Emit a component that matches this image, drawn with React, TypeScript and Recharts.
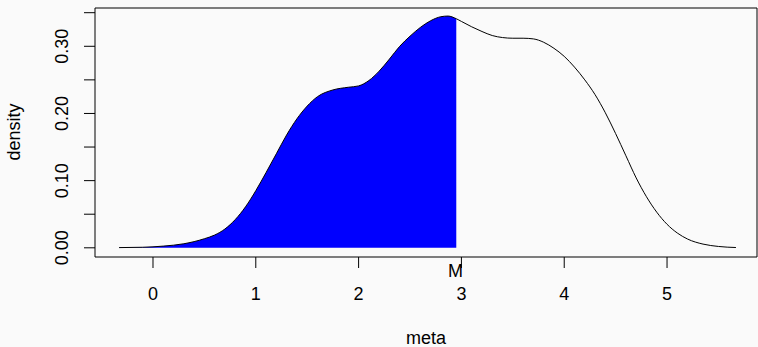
import React from 'react';
import { ComposedChart, Area, Line, XAxis, YAxis, ReferenceArea, ReferenceLine } from 'recharts';

// density estimate of "meta"
const metaX = [
  -0.33, -0.1, 0.1, 0.3, 0.5, 0.6, 0.7, 0.8, 0.9, 1.0, 1.1, 1.2, 1.3, 1.4, 1.5, 1.6, 1.75, 1.9,
  2.0, 2.1, 2.2, 2.3, 2.4, 2.5, 2.6, 2.7, 2.8, 2.87, 2.95, 3.0, 3.1, 3.2, 3.3, 3.4, 3.5,
  3.6, 3.7, 3.8, 3.9, 4.0, 4.1, 4.2, 4.3, 4.4, 4.5, 4.6, 4.7, 4.8, 4.9, 5.0, 5.1, 5.2,
  5.35, 5.5, 5.67,
];
const density = [
  0.0003, 0.0008, 0.0025, 0.006, 0.0135, 0.019, 0.028, 0.042, 0.061, 0.085, 0.112, 0.14,
  0.168, 0.192, 0.211, 0.225, 0.235, 0.239, 0.241, 0.249, 0.263, 0.281, 0.3, 0.315, 0.328,
  0.338, 0.344, 0.345, 0.341, 0.337, 0.329, 0.322, 0.316, 0.313, 0.312, 0.312, 0.311,
  0.306, 0.297, 0.285, 0.269, 0.25, 0.228, 0.201, 0.17, 0.137, 0.104, 0.076, 0.053,
  0.035, 0.022, 0.013, 0.0055, 0.002, 0.0004,
];
const M = 2.95;
const xTicks = [0, 1, 2, 3, 4, 5];
const yTicks = [0, 0.05, 0.1, 0.15, 0.2, 0.25, 0.3, 0.35];
const yLabels = [0, 0.1, 0.2, 0.3];

const X_DOMAIN: [number, number] = [-0.564, 5.875];
const Y_DOMAIN: [number, number] = [-0.0137, 0.357];
const FONT = '"Liberation Sans", Arial, sans-serif';

const data = metaX.map((x, i) => ({
  x,
  y: density[i],
  fill: x <= M ? density[i] : null,
}));

const XTick = (props: any) => (
  <text x={props.x} y={299.5} textAnchor="middle" fontSize={18} fontFamily={FONT} fill="#000">
    {props.payload.value}
  </text>
);

const YTick = (props: any) => {
  const v = props.payload.value;
  if (!yLabels.some(l => Math.abs(l - v) < 1e-9)) return <g />;
  const x = 68;
  return (
    <text
      x={x}
      y={props.y}
      transform={`rotate(-90, ${x}, ${props.y})`}
      textAnchor="middle"
      fontSize={18}
      fontFamily={FONT}
      fill="#000"
    >
      {v.toFixed(2)}
    </text>
  );
};

export default function App() {
  return (
    <div style={{ position: 'fixed', left: 0, top: 0, width: 758, height: 347, background: '#fafafa' }}>
      <ComposedChart
        width={758}
        height={347}
        data={data}
        margin={{ top: 8, right: 1, bottom: 0, left: 0 }}
      >
        <XAxis
          dataKey="x"
          type="number"
          domain={X_DOMAIN}
          ticks={xTicks}
          allowDataOverflow
          height={90}
          axisLine={false}
          tickSize={11}
          tickLine={{ stroke: '#000', strokeWidth: 1 }}
          tick={<XTick />}
          label={() => (
            <text x={426} y={344} textAnchor="middle" fontSize={18} fontFamily={FONT} fill="#000">
              meta
            </text>
          )}
        />
        <YAxis
          type="number"
          domain={Y_DOMAIN}
          ticks={yTicks}
          allowDataOverflow
          width={95}
          axisLine={false}
          tickSize={11}
          tickLine={{ stroke: '#000', strokeWidth: 1 }}
          tick={<YTick />}
          label={() => (
            <text
              x={20}
              y={132}
              transform="rotate(-90, 20, 132)"
              textAnchor="middle"
              fontSize={18}
              fontFamily={FONT}
              fill="#000"
            >
              density
            </text>
          )}
        />
        <Area
          dataKey="fill"
          type="monotone"
          fill="#0000ff"
          fillOpacity={1}
          stroke="none"
          baseValue={0}
          connectNulls={false}
          isAnimationActive={false}
        />
        <Line
          dataKey="y"
          type="monotone"
          stroke="#000"
          strokeWidth={1}
          dot={false}
          isAnimationActive={false}
        />
        <ReferenceLine
          x={M}
          stroke="none"
          label={() => (
            <text x={455.6} y={276.5} textAnchor="middle" fontSize={18} fontFamily={FONT} fill="#000">
              M
            </text>
          )}
        />
        <ReferenceArea
          x1={X_DOMAIN[0]}
          x2={X_DOMAIN[1]}
          y1={Y_DOMAIN[0]}
          y2={Y_DOMAIN[1]}
          fill="none"
          stroke="#000"
          strokeWidth={1}
          ifOverflow="visible"
        />
      </ComposedChart>
    </div>
  );
}
